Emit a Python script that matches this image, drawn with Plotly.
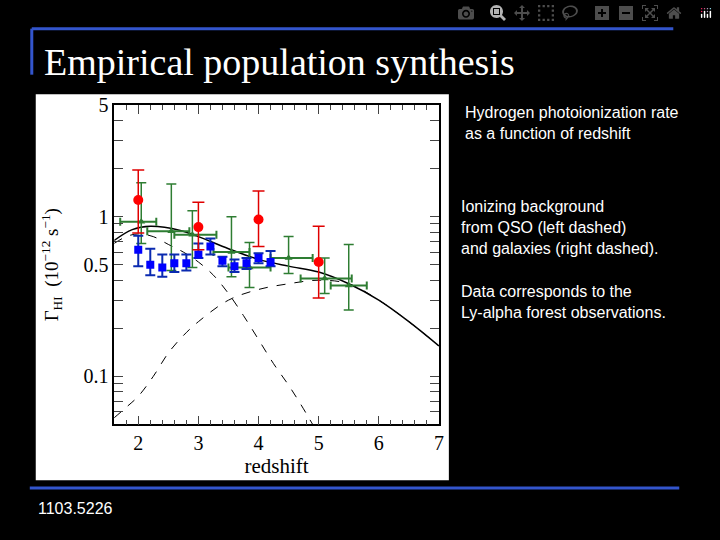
import plotly.graph_objects as go

# red circles
red_z = [2.0, 3.0, 4.0, 5.0]
red_g = [1.27, 0.86, 0.96, 0.52]
red_hi = [1.96, 1.23, 1.45, 0.87]
red_lo = [0.79, 0.62, 0.65, 0.31]

# green triangles
grn_z = [2.05, 2.55, 2.9, 3.55, 3.85, 4.5, 5.1, 5.5]
grn_g = [0.93, 0.81, 0.77, 0.60, 0.48, 0.55, 0.41, 0.37]
grn_hi = [1.63, 1.6, 1.09, 1.0, 0.69, 0.75, 0.55, 0.67]
grn_lo = [0.68, 0.46, 0.48, 0.42, 0.36, 0.44, 0.33, 0.26]
grn_zlo = [1.7, 2.15, 2.6, 3.25, 3.5, 4.2, 4.7, 5.2]
grn_zhi = [2.3, 2.85, 3.3, 3.85, 4.2, 4.9, 5.55, 5.8]

# blue squares
blu_z = [2.0, 2.2, 2.4, 2.6, 2.8, 3.0, 3.2, 3.4, 3.6, 3.8, 4.0, 4.2]
blu_g = [0.62, 0.50, 0.48, 0.51, 0.51, 0.58, 0.65, 0.53, 0.49, 0.51, 0.55, 0.52]
blu_hi = [0.76, 0.63, 0.58, 0.58, 0.58, 0.68, 0.73, 0.56, 0.54, 0.55, 0.59, 0.61]
blu_lo = [0.49, 0.43, 0.42, 0.45, 0.46, 0.55, 0.58, 0.49, 0.45, 0.47, 0.51, 0.49]

# model curves
tot_z = [1.6, 1.9, 2.2, 2.7, 3.0, 3.5, 4.0, 4.5, 5.0, 5.5, 6.0, 6.5, 7.0]
tot_g = [0.71, 0.83, 0.87, 0.82, 0.75, 0.63, 0.54, 0.49, 0.45, 0.38, 0.30, 0.22, 0.155]
qso_z = [1.6, 1.8, 2.0, 2.25, 2.5, 2.75, 3.0, 3.25, 3.5, 3.75, 4.0, 4.25, 4.5, 4.7, 4.9]
qso_g = [0.68, 0.75, 0.78, 0.75, 0.67, 0.60, 0.52, 0.43, 0.33, 0.24, 0.17, 0.12, 0.088, 0.067, 0.05]
gal_z = [1.6, 1.8, 2.0, 2.25, 2.5, 2.75, 3.0, 3.5, 4.0, 4.5, 5.0, 5.5, 6.0, 6.5, 7.0]
gal_g = [0.055, 0.064, 0.075, 0.1, 0.14, 0.18, 0.22, 0.30, 0.35, 0.38, 0.40, 0.38, 0.30, 0.22, 0.155]

y_ticks = [0.05, 0.06, 0.07, 0.08, 0.09, 0.1, 0.2, 0.3, 0.4, 0.5, 0.6, 0.7, 0.8, 0.9, 1, 2, 3, 4, 5]
y_labels = {0.1: "0.1", 0.5: "0.5", 1: "1", 5: "5"}

fig = go.Figure()
fig.add_trace(go.Scatter(x=tot_z, y=tot_g, mode="lines", line=dict(color="black", width=1.5, shape="spline")))
fig.add_trace(go.Scatter(x=qso_z, y=qso_g, mode="lines", line=dict(color="black", width=1, dash="dash", shape="spline")))
fig.add_trace(go.Scatter(x=gal_z, y=gal_g, mode="lines", line=dict(color="black", width=1, dash="dash", shape="spline")))

fig.add_trace(go.Scatter(
    x=grn_z, y=grn_g, mode="markers",
    marker=dict(symbol="triangle-up", size=7, color="#2e7d32"),
    error_y=dict(type="data", symmetric=False,
                 array=[h - g for h, g in zip(grn_hi, grn_g)],
                 arrayminus=[g - l for g, l in zip(grn_g, grn_lo)],
                 color="#2e7d32", thickness=1.5, width=5),
    error_x=dict(type="data", symmetric=False,
                 array=[h - z for h, z in zip(grn_zhi, grn_z)],
                 arrayminus=[z - l for z, l in zip(grn_z, grn_zlo)],
                 color="#2e7d32", thickness=2, width=4),
))
fig.add_trace(go.Scatter(
    x=blu_z, y=blu_g, mode="markers",
    marker=dict(symbol="square", size=8, color="#0000ff"),
    error_y=dict(type="data", symmetric=False,
                 array=[h - g for h, g in zip(blu_hi, blu_g)],
                 arrayminus=[g - l for g, l in zip(blu_g, blu_lo)],
                 color="#0a2ab0", thickness=2, width=5),
))
fig.add_trace(go.Scatter(
    x=red_z, y=red_g, mode="markers",
    marker=dict(symbol="circle", size=10, color="#ff0000"),
    error_y=dict(type="data", symmetric=False,
                 array=[h - g for h, g in zip(red_hi, red_g)],
                 arrayminus=[g - l for g, l in zip(red_g, red_lo)],
                 color="#e00000", thickness=1.5, width=6),
))

serif = "Liberation Serif"
axfont = dict(family=serif, size=20, color="black")
fig.update_xaxes(
    domain=[115 / 720, 442 / 720], range=[1.6, 7], tickvals=[2, 3, 4, 5, 6, 7],
    ticks="inside", ticklen=9, mirror="allticks", showline=True, linecolor="black", linewidth=1.5,
    showgrid=False, zeroline=False, tickfont=axfont,
    minor=dict(ticks="inside", ticklen=5, dtick=0.2, tick0=0, showgrid=False),
    title=dict(text="redshift", font=dict(family=serif, size=21, color="black"), standoff=4),
)
fig.update_yaxes(
    domain=[1 - 422 / 540, 1 - 96 / 540], type="log", range=[-1.301, 0.699],
    tickvals=y_ticks, ticktext=[y_labels.get(v, "") for v in y_ticks],
    ticks="inside", ticklen=9, mirror="allticks", showline=True, linecolor="black", linewidth=1.5,
    showgrid=False, zeroline=False, tickfont=axfont,
)

fig.add_shape(type="rect", xref="paper", yref="paper", x0=36 / 720, x1=452 / 720,
              y0=1 - 479 / 540, y1=1 - 85 / 540, fillcolor="white", line_width=0, layer="below")
# slide decoration lines
blue = "#3355cc"
for x0, y0, x1, y1 in [(32, 18, 678, 18), (32, 18, 32, 65), (30, 487, 684, 487)]:
    fig.add_shape(type="line", xref="paper", yref="paper", x0=x0 / 720, x1=x1 / 720,
                  y0=1 - y0 / 540, y1=1 - y1 / 540, line=dict(color=blue, width=3))

fig.add_annotation(x=52 / 720, y=1 - 259 / 540, xref="paper", yref="paper", textangle=-90,
                   xanchor="center", yanchor="middle",
                   text="Γ<sub>HI</sub>  (10<sup>−12</sup> s<sup>−1</sup>)", showarrow=False,
                   font=dict(family=serif, size=19, color="black"))
fig.add_annotation(x=42 / 720, y=1 - 52 / 540, xref="paper", yref="paper", xanchor="left",
                   yanchor="middle", text="Empirical population synthesis", showarrow=False,
                   font=dict(family=serif, size=38, color="white"))
sans = dict(family="Liberation Sans", size=16, color="white")
for x, y, t in [
    (466, 114, "Hydrogen photoionization rate<br>as a function of redshift"),
    (462, 221, "Ionizing background<br>from QSO (left dashed)<br>and galaxies (right dashed)."),
    (462, 297, "Data corresponds to the<br>Ly-alpha forest observations."),
    (36, 508, "1103.5226"),
]:
    fig.add_annotation(x=x / 720, y=1 - y / 540, xref="paper", yref="paper", xanchor="left",
                       yanchor="middle", align="left", text=t, showarrow=False, font=sans)

fig.update_layout(width=720, height=540, margin=dict(l=0, r=0, t=0, b=0),
                  paper_bgcolor="black", plot_bgcolor="white", showlegend=False)
fig.write_html("out.html", post_script="document.body.style.margin='0';")
